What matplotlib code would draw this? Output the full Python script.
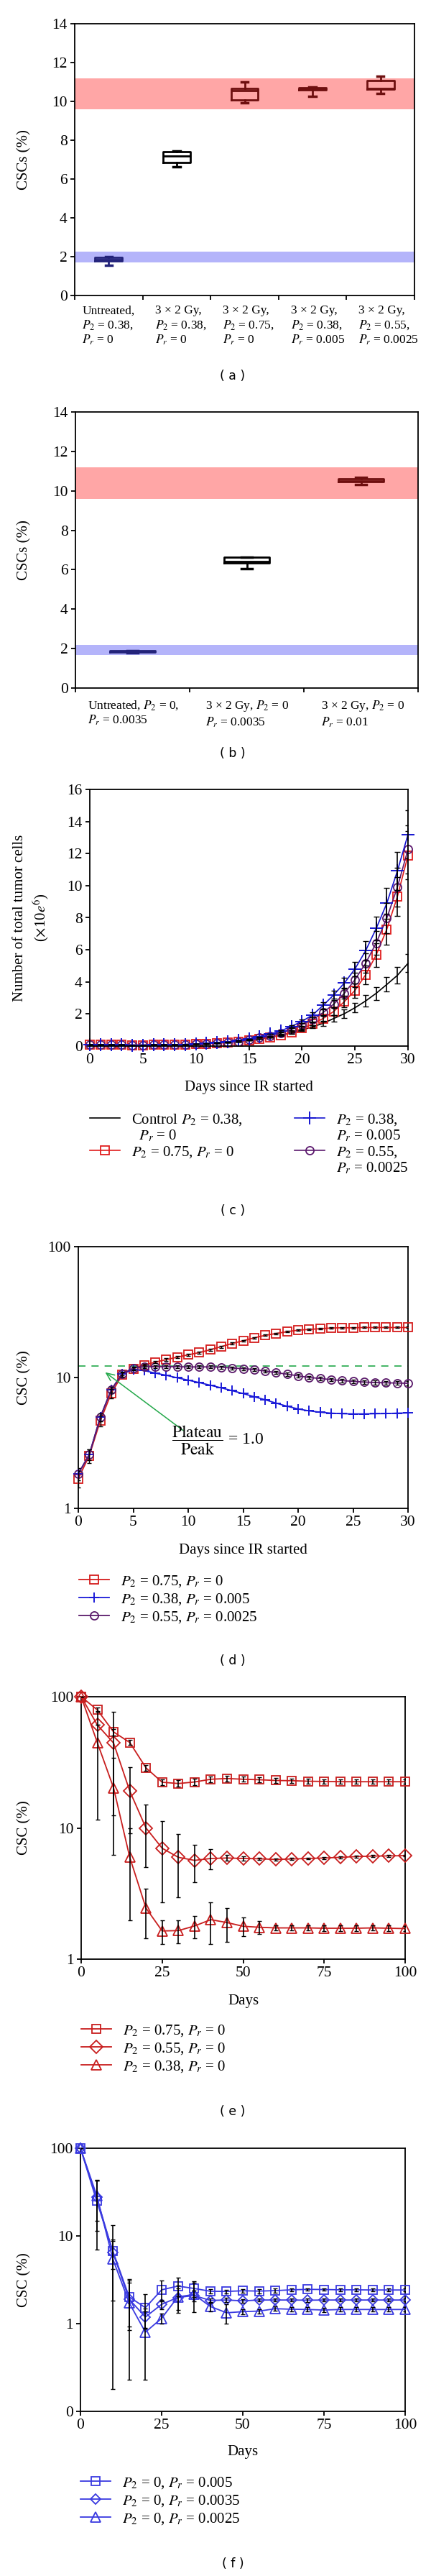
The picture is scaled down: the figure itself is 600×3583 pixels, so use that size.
import numpy as np
import matplotlib
matplotlib.use("Agg")
import matplotlib.pyplot as plt
from matplotlib.lines import Line2D
from matplotlib.ticker import FixedLocator, FixedFormatter, NullLocator
from matplotlib.transforms import blended_transform_factory

plt.rcParams['font.family'] = ['Liberation Serif', 'DejaVu Serif']
plt.rcParams['mathtext.fontset'] = 'stix'
plt.rcParams['axes.linewidth'] = 1.3
plt.rcParams['xtick.direction'] = 'out'
plt.rcParams['ytick.direction'] = 'out'
plt.rcParams['xtick.major.size'] = 4
plt.rcParams['ytick.major.size'] = 4
plt.rcParams['xtick.major.width'] = 1.3
plt.rcParams['ytick.major.width'] = 1.3
plt.rcParams['xtick.labelsize'] = 15.5
plt.rcParams['ytick.labelsize'] = 15.5

# ---- data -----------------------------------------------------------
# (a) box statistics: whislo, q1, med, q3, whishi
a_labels = ["Untreated,\n$P_2$ = 0.38,\n$P_r$ = 0",
            "3 × 2 Gy,\n$P_2$ = 0.38,\n$P_r$ = 0",
            "3 × 2 Gy,\n$P_2$ = 0.75,\n$P_r$ = 0",
            "3 × 2 Gy,\n$P_2$ = 0.38,\n$P_r$ = 0.005",
            "3 × 2 Gy,\n$P_2$ = 0.55,\n$P_r$ = 0.0025"]
a_whislo = [1.57, 6.64, 9.92, 10.26, 10.39]
a_q1 = [1.79, 6.85, 10.07, 10.59, 10.62]
a_med = [1.85, 7.17, 10.54, 10.65, 10.66]
a_q3 = [1.97, 7.41, 10.65, 10.70, 11.06]
a_whishi = [2.00, 7.43, 10.99, 10.75, 11.28]
a_colors = ['#23237a', 'black', '#6e0f0f', '#6e0f0f', '#6e0f0f']

b_labels = ["Untreated, $P_2$ = 0,\n$P_r$ = 0.0035",
            "3 × 2 Gy, $P_2$ = 0\n$P_r$ = 0.0035",
            "3 × 2 Gy, $P_2$ = 0\n$P_r$ = 0.01"]
b_whislo = [1.79, 6.05, 10.32]
b_q1 = [1.81, 6.36, 10.45]
b_med = [1.86, 6.40, 10.50]
b_q3 = [1.91, 6.62, 10.60]
b_whishi = [1.91, 6.62, 10.69]
b_colors = ['#23237a', 'black', '#6e0f0f']

red_band = [9.58, 11.19]
blue_band_a = [1.72, 2.25]
blue_band_b = [1.66, 2.19]

# (c) total tumour cells, days 0..30
c_days = np.arange(31)
c_control = [0.08, 0.08, 0.07, 0.07, 0.06, 0.06, 0.07, 0.07, 0.08, 0.10, 0.12, 0.15, 0.19, 0.23, 0.29,
             0.36, 0.45, 0.55, 0.67, 0.82, 1.00, 1.20, 1.42, 1.72, 2.02, 2.39, 2.81, 3.29, 3.84, 4.41, 5.16]
c_control_err = [0, 0, 0, 0, 0, 0, 0, 0, 0, 0, 0, 0, 0, 0, 0,
                 0, 0, 0, 0, 0.05, 0.07, 0.10, 0.15, 0.20, 0.25, 0.30, 0.35, 0.40, 0.45, 0.50, 0.56]
c_red = [0.08, 0.08, 0.07, 0.07, 0.06, 0.06, 0.07, 0.07, 0.08, 0.10, 0.12, 0.15, 0.19, 0.23, 0.29,
         0.37, 0.45, 0.55, 0.67, 0.85, 1.10, 1.38, 1.72, 2.16, 2.77, 3.47, 4.44, 5.68, 7.28, 9.32, 11.89]
c_purple = [0.08, 0.08, 0.07, 0.07, 0.06, 0.06, 0.07, 0.07, 0.08, 0.10, 0.12, 0.15, 0.19, 0.23, 0.29,
            0.40, 0.52, 0.64, 0.82, 1.05, 1.35, 1.64, 2.09, 2.62, 3.29, 4.14, 5.16, 6.43, 7.97, 9.91, 12.26]
c_blue = [0.08, 0.08, 0.07, 0.07, 0.06, 0.06, 0.07, 0.07, 0.08, 0.10, 0.13, 0.16, 0.21, 0.25, 0.34,
          0.45, 0.60, 0.75, 0.94, 1.23, 1.54, 1.94, 2.54, 3.19, 3.93, 4.81, 5.94, 7.33, 8.90, 10.92, 13.19]
c_err = [0, 0, 0, 0, 0, 0, 0, 0, 0, 0, 0, 0, 0, 0, 0,
         0, 0, 0, 0.05, 0.07, 0.10, 0.15, 0.20, 0.25, 0.35, 0.45, 0.60, 0.75, 0.95, 1.20, 1.50]

# (d) CSC fraction, days 0..30
d_red = [1.69, 2.53, 4.66, 7.57, 10.5, 11.7, 12.45, 13.1, 13.7, 14.3, 14.9, 15.5, 16.3, 17.2, 18.2, 19.1,
         20.1, 21.0, 21.7, 22.4, 23.0, 23.3, 23.6, 23.9, 24.0, 24.0, 24.1, 24.1, 24.1, 24.1, 24.1]
d_red_err = [0.25, 0.3, 0.45, 0.6, 0.4, 0.3, 0.3, 0.3, 0.3, 0.3, 0.3, 0.3, 0.3, 0.3, 0.3, 0.3,
             0.3, 0.3, 0.3, 0.3, 0.3, 0.3, 0.3, 0.3, 0.3, 0.3, 0.3, 0.3, 0.3, 0.3, 0.3]
d_blue = [1.84, 2.58, 4.97, 8.07, 10.7, 11.5, 11.3, 10.8, 10.4, 9.95, 9.54, 9.15, 8.73, 8.34, 7.93, 7.54,
          7.13, 6.76, 6.37, 6.03, 5.75, 5.56, 5.43, 5.34, 5.29, 5.27, 5.27, 5.29, 5.30, 5.34, 5.36]
d_purple = [1.84, 2.58, 4.97, 8.07, 10.7, 11.8, 12.1, 12.1, 12.1, 12.1, 12.05, 12.05, 12.05, 12.0, 11.8, 11.7,
            11.5, 11.2, 10.9, 10.6, 10.3, 10.0, 9.84, 9.63, 9.47, 9.35, 9.23, 9.15, 9.11, 9.07, 9.03]
d_purple_err = [0.2, 0.25, 0.35, 0.4, 0.3, 0.3, 0.3, 0.3, 0.3, 0.3, 0.3, 0.3, 0.3, 0.3, 0.3, 0.3,
                0.3, 0.3, 0.3, 0.3, 0.3, 0.3, 0.3, 0.3, 0.3, 0.3, 0.3, 0.3, 0.3, 0.3, 0.3]
plateau_level = 12.2

# (e) and (f) CSC fraction, days 0..100 step 5
ef_days = np.arange(0, 101, 5)
e_sq = [100, 79.3, 53.9, 44.8, 28.7, 22.3, 21.8, 22.4, 23.5, 23.8, 23.5, 23.3, 23.0, 22.9, 22.7, 22.6,
        22.5, 22.5, 22.5, 22.5, 22.5]
e_sq_err = [0, 3, 3, 2, 1.5, 1.2, 1.2, 1.2, 1.2, 1.2, 1.0, 1.0, 0.9, 0.9, 0.9, 0.9, 0.9, 0.9, 0.9, 0.9, 0.9]
e_di = [100, 60.9, 44.4, 19.1, 10.0, 7.0, 5.97, 5.66, 5.85, 5.9, 5.85, 5.82, 5.75, 5.8, 5.85, 5.9,
        5.97, 6.05, 6.1, 6.12, 6.15]
e_di_err = [0, 0, 32, 10, 5, 4.3, 3.0, 1.8, 1.0, 0.3, 0.2, 0.1, 0.1, 0.1, 0.1, 0.1, 0.1, 0.1, 0.1, 0.1, 0.1]
e_tr = [100, 44.6, 20.2, 5.97, 2.45, 1.64, 1.65, 1.79, 2.0, 1.9, 1.78, 1.75, 1.73, 1.73, 1.73, 1.72,
        1.72, 1.72, 1.73, 1.72, 1.71]
e_tr_err = [0, 33, 14, 4, 1.0, 0.33, 0.33, 0.34, 0.7, 0.55, 0.29, 0.2, 0.08, 0.08, 0.08, 0.08,
            0.08, 0.08, 0.08, 0.08, 0.08]

f_sq = [100, 25.0, 6.68, 2.02, 1.52, 2.43, 2.68, 2.52, 2.34, 2.33, 2.37, 2.35, 2.38, 2.43, 2.46, 2.45,
        2.43, 2.43, 2.42, 2.42, 2.42]
f_sq_err = [0, 18, 6.5, 1.1, 0.65, 0.65, 0.65, 0.5, 0.15, 0.12, 0.1, 0.12, 0.12, 0.1, 0.08, 0.08,
            0.08, 0.08, 0.08, 0.08, 0.08]
f_di = [100, 27.5, 6.48, 1.9, 1.19, 1.66, 1.99, 2.09, 1.84, 1.86, 1.82, 1.86, 1.86, 1.86, 1.85, 1.86,
        1.86, 1.86, 1.86, 1.86, 1.86]
f_di_err = [0, 16, 2.3, 1.05, 0.3, 0.2, 0.55, 0.3, 0.1, 0.1, 0.08, 0.08, 0.08, 0.08, 0.08, 0.08,
            0.08, 0.08, 0.08, 0.08, 0.08]
f_tr = [100, 29.0, 5.43, 1.73, 0.80, 1.15, 2.02, 2.15, 1.57, 1.33, 1.37, 1.39, 1.48, 1.46, 1.45, 1.43,
        1.45, 1.45, 1.45, 1.45, 1.45]
f_tr_err = [0, 14, 3.6, 1.5, 0.57, 0.15, 0.7, 0.8, 0.2, 0.33, 0.1, 0.08, 0.08, 0.08, 0.08, 0.08,
            0.08, 0.08, 0.08, 0.08, 0.08]

# ---- layout ---------------------------------------------------------
W, H = 600, 3583
LBL = 15   # axis label / legend size
fig = plt.figure(figsize=(W / 100, H / 100), dpi=100)


def place(l, r, t, b):
    return fig.add_axes([l / W, 1 - b / H, (r - l) / W, (b - t) / H])


def ylab(ax, text, xpx, l, r, **kw):
    # xpx is the right edge of the rotated label
    ax.set_ylabel(text, fontsize=LBL, **kw)
    ax.yaxis.set_label_coords((xpx - l) / (r - l), 0.5)


def xlab(ax, text, ypx, t, b):
    # ypx is the top of the label
    ax.set_xlabel(text, fontsize=LBL)
    ax.xaxis.set_label_coords(0.5, (b - ypx) / (b - t))


def panel_tag(tag, ypx):
    fig.text(324 / W, 1 - ypx / H, "( %s )" % tag, ha='center', va='center',
             fontsize=12.5, family='DejaVu Sans')


def legend(ax, handles, labels, xpx, ypx, **kw):
    return ax.legend(handles, labels, loc='upper left', bbox_to_anchor=(xpx / W, 1 - ypx / H),
                     bbox_transform=fig.transFigure, frameon=False, borderpad=0,
                     borderaxespad=0, fontsize=LBL, **kw)


def boxes(ax, labels, whislo, q1, med, q3, whishi, colors, lbl_off, lbl_top):
    n = len(labels)
    stats = [dict(whislo=whislo[i], q1=q1[i], med=med[i], q3=q3[i], whishi=whishi[i])
             for i in range(n)]
    pos = np.arange(n) + 0.5
    for i in range(n):
        c = colors[i]
        ax.bxp([stats[i]], positions=[pos[i]], widths=0.4, capwidths=0.1, showfliers=False,
               boxprops=dict(color=c, lw=2), medianprops=dict(color=c, lw=2),
               whiskerprops=dict(color=c, lw=2), capprops=dict(color=c, lw=2.5),
               manage_ticks=False, zorder=3)
    ax.set_xlim(0, n)
    ax.set_ylim(0, 14)
    ax.set_yticks(np.arange(0, 15, 2))
    ax.set_xticks(np.arange(n + 1))
    ax.set_xticklabels([])
    ax.tick_params(top=False, right=False)
    tr = blended_transform_factory(ax.transData, ax.transAxes)
    for i in range(n):
        ax.text(i + lbl_off[i], lbl_top, labels[i], transform=tr, ha='left', va='top',
                fontsize=12.5, linespacing=1.2)


# ---- (a) ------------------------------------------------------------
la, ra = 104, 577
ax = place(la, ra, 33, 411)
ax.axhspan(red_band[0], red_band[1], color='#ffa6a6', lw=0, zorder=1)
ax.axhspan(blue_band_a[0], blue_band_a[1], color='#b4b4fa', lw=0, zorder=1)
boxes(ax, a_labels, a_whislo, a_q1, a_med, a_q3, a_whishi, a_colors,
      [0.11, 0.18, 0.18, 0.18, 0.18], -0.035)
ylab(ax, "CSCs (%)", 43, la, ra)
panel_tag('a', 523)

# ---- (b) ------------------------------------------------------------
lb, rb = 105, 582
ax = place(lb, rb, 573, 957)
ax.axhspan(red_band[0], red_band[1], color='#ffa6a6', lw=0, zorder=1)
ax.axhspan(blue_band_b[0], blue_band_b[1], color='#b4b4fa', lw=0, zorder=1)
boxes(ax, b_labels, b_whislo, b_q1, b_med, b_q3, b_whishi, b_colors,
      [0.107, 0.14, 0.15], -0.04)
ylab(ax, "CSCs (%)", 43, lb, rb)
panel_tag('b', 1048)

# ---- (c) ------------------------------------------------------------
lc, rc = 125, 568
ax = place(lc, rc, 1098, 1455)
h_ctrl, = ax.plot(c_days, c_control, color='black', lw=1.2, clip_on=False)
h_red, = ax.plot(c_days, c_red, color='#e01e1e', lw=1.2, marker='s', ms=8, mfc='none',
                 mew=1.3, clip_on=False)
h_pur, = ax.plot(c_days, c_purple, color='#5c1a6e', lw=1.2, marker='o', ms=8, mfc='none',
                 mew=1.3, clip_on=False)
h_blu, = ax.plot(c_days, c_blue, color='#1515d0', lw=1.2, marker='+', ms=13, mew=1.4,
                 clip_on=False)
ax.errorbar(c_days, c_control, yerr=c_control_err, fmt='none', ecolor='black', elinewidth=1.2,
            capsize=3, zorder=4)
for s in (c_red, c_purple, c_blue):
    ax.errorbar(c_days, s, yerr=c_err, fmt='none', ecolor='black', elinewidth=1.2, capsize=3,
                zorder=4)
ax.set_xlim(0, 30)
ax.set_ylim(0, 16)
ax.set_xticks(range(0, 31, 5))
ax.set_yticks(range(0, 17, 2))
ax.tick_params(top=False, right=False)
xlab(ax, "Days since IR started", 1503, 1098, 1455)
ylab(ax, "Number of total tumor cells\n($\\times$10$e^6$)", 70, lc, rc, linespacing=1.35)
blank = Line2D([], [], color='none')
leg1 = legend(ax, [h_ctrl, blank, h_red],
              ["Control $P_2$ = 0.38,", "  $P_r$ = 0", "$P_2$ = 0.75, $P_r$ = 0"],
              125, 1547, handlelength=2.0, handletextpad=0.8, labelspacing=0.08)
ax.add_artist(leg1)
legend(ax, [h_blu, blank, h_pur, blank],
       ["$P_2$ = 0.38,", "$P_r$ = 0.005", "$P_2$ = 0.55,", "$P_r$ = 0.0025"],
       410, 1547, handlelength=2.0, handletextpad=0.8, labelspacing=0.08)
panel_tag('c', 1684)

# ---- (d) ------------------------------------------------------------
ld, rd = 109, 568
ax = place(ld, rd, 1734, 2098)
ax.set_yscale('log')
h1, = ax.plot(c_days, d_red, color='#d41c1c', lw=1.3, marker='s', ms=8, mfc='none', mew=1.3,
              clip_on=False, zorder=3)
h2, = ax.plot(c_days, d_blue, color='#1a1ad8', lw=1.3, marker='+', ms=10, mew=1.4,
              clip_on=False, zorder=3)
h3, = ax.plot(c_days, d_purple, color='#5a1a6a', lw=1.3, marker='o', ms=8, mfc='none', mew=1.3,
              clip_on=False, zorder=3)
ax.errorbar(c_days, d_red, yerr=d_red_err, fmt='none', ecolor='black', elinewidth=1.0,
            capsize=2, zorder=4)
ax.errorbar(c_days, d_purple, yerr=d_purple_err, fmt='none', ecolor='black', elinewidth=1.0,
            capsize=2, zorder=4)
ax.axhline(plateau_level, color='#23a84a', lw=1.2, ls=(0, (6, 5)), zorder=2)
ax.annotate('', xy=(2.3, 11.2), xytext=(9.7, 3.85),
            arrowprops=dict(arrowstyle='->,head_length=0.8,head_width=0.35', color='#23a84a',
                            lw=1.1))
ax.text(12.7, 3.3, r"$\dfrac{\mathrm{Plateau}}{\mathrm{Peak}}$ = 1.0", fontsize=17,
        ha='center', va='center')
ax.set_xlim(0, 30)
ax.set_ylim(1, 100)
ax.set_xticks(range(0, 31, 5))
ax.yaxis.set_major_locator(FixedLocator([1, 10, 100]))
ax.yaxis.set_major_formatter(FixedFormatter(["1", "10", "100"]))
ax.yaxis.set_minor_locator(NullLocator())
ax.tick_params(top=False, right=False)
xlab(ax, "Days since IR started", 2147, 1734, 2098)
ylab(ax, "CSC (%)", 43, ld, rd)
legend(ax, [h1, h2, h3],
       ["$P_2$ = 0.75, $P_r$ = 0", "$P_2$ = 0.38, $P_r$ = 0.005", "$P_2$ = 0.55, $P_r$ = 0.0025"],
       110, 2189, handlelength=2.0, handletextpad=0.8, labelspacing=0.2)
panel_tag('d', 2310)


# ---- (e), (f) -------------------------------------------------------
def csc_panel(l, r, t, b, series, errs, color, labels, lab_y, leg_y, ylim, yticks, ytl, tag, tag_y,
              sizes):
    ax = place(l, r, t, b)
    ax.set_yscale('log')
    hs = []
    for s, m, ms in zip(series, ['s', 'D', '^'], sizes):
        h, = ax.plot(ef_days, s, color=color, lw=1.3, marker=m, ms=ms, mfc='none', mew=1.3,
                     clip_on=False, zorder=3)
        hs.append(h)
    for s, e in zip(series, errs):
        ax.errorbar(ef_days, s, yerr=e, fmt='none', ecolor='black', elinewidth=1.2, capsize=2.5,
                    zorder=4)
    ax.set_xlim(0, 100)
    ax.set_ylim(*ylim)
    ax.set_xticks(range(0, 101, 25))
    ax.yaxis.set_major_locator(FixedLocator(yticks))
    ax.yaxis.set_major_formatter(FixedFormatter(ytl))
    ax.yaxis.set_minor_locator(NullLocator())
    ax.tick_params(top=False, right=False)
    xlab(ax, "Days", lab_y, t, b)
    ylab(ax, "CSC (%)", 43, l, r)
    legend(ax, hs, labels, l, leg_y, handlelength=2.0, handletextpad=0.8, labelspacing=0.2)
    panel_tag(tag, tag_y)


csc_panel(113, 564, 2360, 2725, [e_sq, e_di, e_tr], [e_sq_err, e_di_err, e_tr_err], '#c81e1e',
          ["$P_2$ = 0.75, $P_r$ = 0", "$P_2$ = 0.55, $P_r$ = 0", "$P_2$ = 0.38, $P_r$ = 0"],
          2774, 2814, (1, 100), [1, 10, 100], ["1", "10", "100"], 'e', 2937, [9, 9, 10])
csc_panel(112, 564, 2988, 3354, [f_sq, f_di, f_tr], [f_sq_err, f_di_err, f_tr_err], '#3a3ae0',
          ["$P_2$ = 0, $P_r$ = 0.005", "$P_2$ = 0, $P_r$ = 0.0035", "$P_2$ = 0, $P_r$ = 0.0025"],
          3401, 3443, (0.1, 100), [0.1, 1, 10, 100], ["0", "1", "10", "100"], 'f', 3566, [9, 7, 10])

fig.savefig("out.png", dpi=100)
